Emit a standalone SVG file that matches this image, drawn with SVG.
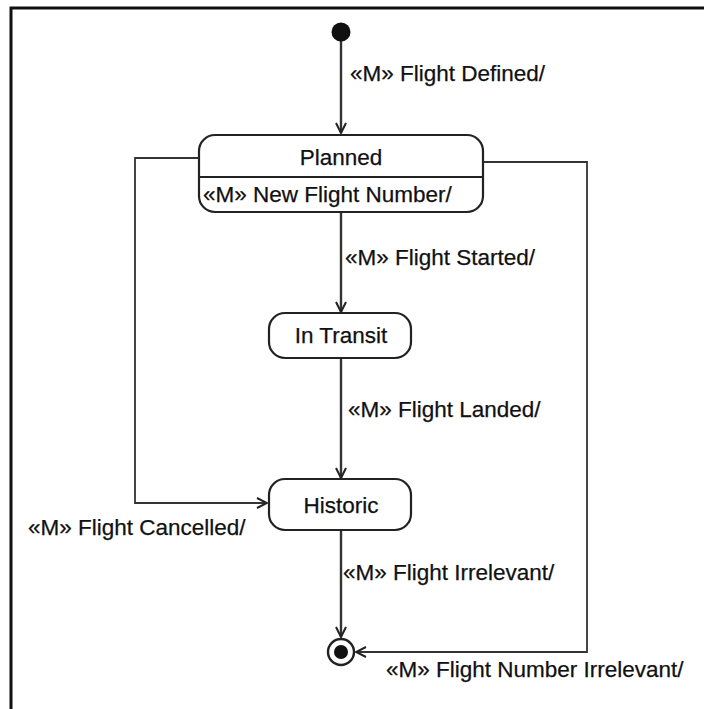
<svg xmlns="http://www.w3.org/2000/svg" width="704" height="709" viewBox="0 0 704 709">
<style>
.frame{fill:none;stroke:#111;stroke-width:3}
.st{fill:#fff;stroke:#222;stroke-width:2.2}
.ln{fill:none;stroke:#333;stroke-width:2.4}
.thin{fill:none;stroke:#333;stroke-width:1.8}
text{font-family:"Liberation Sans",Arial,sans-serif;font-size:22.5px;fill:#111;stroke:#111;stroke-width:0.25}
.c{text-anchor:middle}
</style>
<defs>
<marker id="arr" viewBox="0 0 12 12" refX="11" refY="6" markerWidth="12" markerHeight="12" markerUnits="userSpaceOnUse" orient="auto">
<path d="M1,1 L11,6 L1,11" fill="none" stroke="#222" stroke-width="2"/>
</marker>
</defs>
<rect width="704" height="709" fill="#fff"/>
<path class="frame" d="M11,709 V8 H704"/>
<g id="connectors">
<line class="ln" x1="341" y1="36" x2="341" y2="133" marker-end="url(#arr)"/>
<line class="ln" x1="341" y1="212" x2="341" y2="312" marker-end="url(#arr)"/>
<line class="ln" x1="341" y1="358" x2="341" y2="478" marker-end="url(#arr)"/>
<line class="ln" x1="341" y1="530" x2="341" y2="637" marker-end="url(#arr)"/>
<path class="thin" d="M199,158 H135 V503 H267" marker-end="url(#arr)"/>
<path class="thin" d="M483,162 H587 V652 H356" marker-end="url(#arr)"/>
<text x="350" y="81">«M» Flight Defined/</text>
<text x="345" y="265">«M» Flight Started/</text>
<text x="348" y="417">«M» Flight Landed/</text>
<text x="28" y="535">«M» Flight Cancelled/</text>
<text x="343" y="580">«M» Flight Irrelevant/</text>
<text x="386" y="677">«M» Flight Number Irrelevant/</text>
</g>
<g id="initial">
<circle cx="341" cy="32" r="9.5" fill="#111"/>
</g>
<g id="planned">
<rect class="st" x="199" y="135" width="284" height="77" rx="16"/>
<line class="st" x1="199" y1="177" x2="483" y2="177"/>
<text class="c" x="341" y="165">Planned</text>
<text x="203" y="202">«M» New Flight Number/</text>
</g>
<g id="intransit">
<rect class="st" x="269" y="313" width="142" height="45" rx="16"/>
<text class="c" x="341" y="343">In Transit</text>
</g>
<g id="historic">
<rect class="st" x="269" y="479" width="142" height="51" rx="16"/>
<text class="c" x="341" y="513">Historic</text>
</g>
<g id="final">
<circle cx="341" cy="652" r="13" fill="#fff" stroke="#222" stroke-width="2.4"/>
<circle cx="341" cy="652" r="7" fill="#111"/>
</g>
</svg>
